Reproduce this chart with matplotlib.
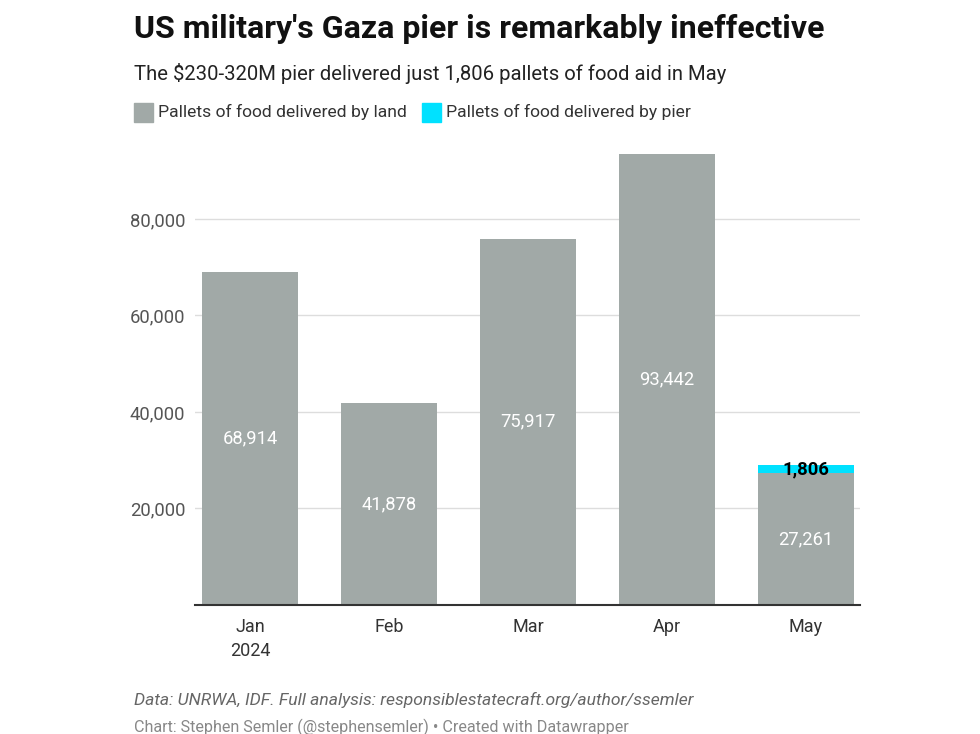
import matplotlib
matplotlib.use("Agg")
import matplotlib.pyplot as plt
from matplotlib.patches import Rectangle

months = ["Jan\n2024", "Feb", "Mar", "Apr", "May"]
land = [68914, 41878, 75917, 93442, 27261]
pier = [0, 0, 0, 0, 1806]
yticks = [20000, 40000, 60000, 80000]

GRAY = "#a1a9a7"
CYAN = "#00e1ff"

plt.rcParams['font.family'] = ['Roboto', 'DejaVu Sans']

fig = plt.figure(figsize=(9.8, 7.34), dpi=100)
ax = fig.add_axes([195/980, 1-605/734, 665/980, (605-146.6)/734])

x = list(range(len(months)))
w = 0.69
ax.bar(x, land, width=w, color=GRAY, zorder=2)
ax.bar(x, pier, width=w, bottom=land, color=CYAN, zorder=2)

for xi, v in zip(x, land):
    ax.text(xi, v/2, f"{v:,}", ha="center", va="center", color="white", fontsize=13.2, zorder=3)
for xi, v, b in zip(x, pier, land):
    if v > 0:
        ax.text(xi, b + v/2, f"{v:,}", ha="center", va="center", color="black",
                fontsize=13.2, fontweight="bold", zorder=3)

ax.set_xlim(-0.396, 4.39)
ax.set_ylim(0, 95000)
ax.set_yticks(yticks)
ax.set_yticklabels([f"{t:,}" for t in yticks], fontsize=13.3, color="#555555")
ax.yaxis.grid(True, color="#dddddd", linewidth=1, zorder=0)
ax.tick_params(axis="y", length=0, pad=7)
ax.set_xticks(x)
ax.set_xticklabels(months, fontsize=13, color="#333333", linespacing=1.45)
ax.tick_params(axis="x", length=0, pad=9)
for s in ["top", "right", "left"]:
    ax.spines[s].set_visible(False)
ax.spines["bottom"].set_color("#333333")
ax.spines["bottom"].set_linewidth(1.5)
ax.spines["bottom"].set_zorder(4)

fig.text(134/980, 1-29/734, "US military's Gaza pier is remarkably ineffective",
         fontsize=23, fontweight="bold", color="#111111", va="center", ha="left")
fig.text(134/980, 1-73/734, "The $230-320M pier delivered just 1,806 pallets of food aid in May",
         fontsize=14.6, color="#222222", va="center", ha="left")

# legend
for (x0, col, label) in [(134, GRAY, "Pallets of food delivered by land"),
                         (422, CYAN, "Pallets of food delivered by pier")]:
    fig.patches.append(Rectangle((x0/980, 1-122/734), 19/980, 19/734,
                                 transform=fig.transFigure, color=col))
    fig.text((x0+24)/980, 1-112/734, label, fontsize=12.6, color="#333333",
             va="center", ha="left")

fig.text(134/980, 1-700/734, "Data: UNRWA, IDF. Full analysis: responsiblestatecraft.org/author/ssemler",
         fontsize=12.6, style="italic", color="#666666", va="center", ha="left")
fig.text(134/980, 1-727/734, "Chart: Stephen Semler (@stephensemler) \u2022 Created with Datawrapper",
         fontsize=11.6, color="#888888", va="center", ha="left")

fig.savefig("out.png", dpi=100, facecolor="white")
